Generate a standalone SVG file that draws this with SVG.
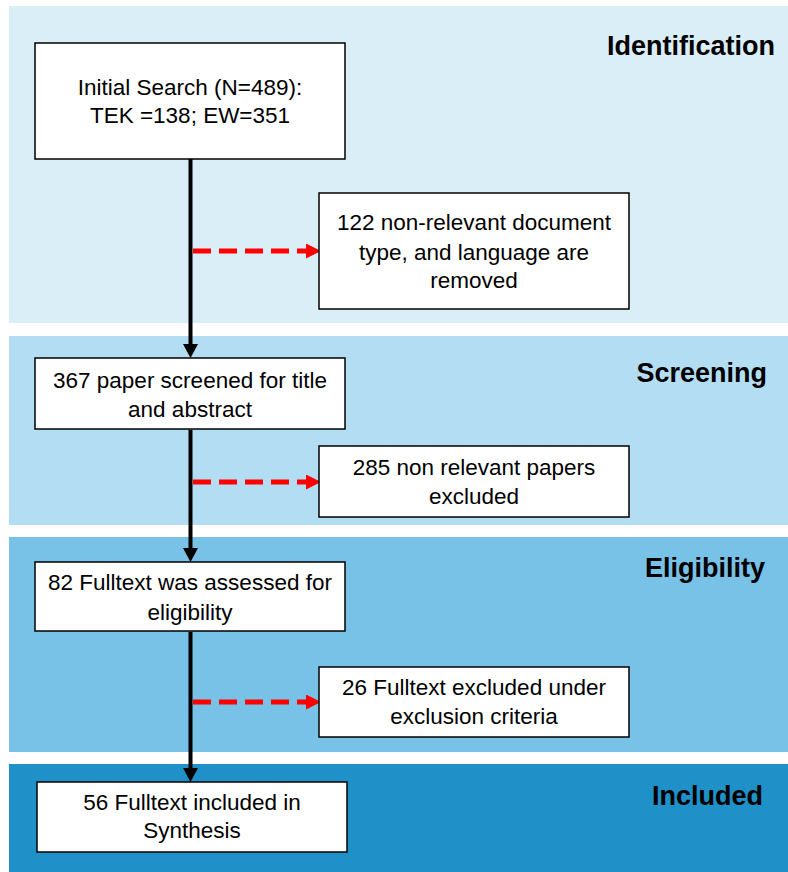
<svg xmlns="http://www.w3.org/2000/svg" width="788" height="872" viewBox="0 0 788 872">
  <style>
    .box { fill: #ffffff; stroke: #000000; stroke-width: 1.5; }
    .txt { font-family: "Liberation Sans", Arial, sans-serif; font-size: 22.5px; fill: #000000; text-anchor: middle; }
    .stage { font-family: "Liberation Sans", Arial, sans-serif; font-size: 27px; font-weight: bold; fill: #000000; text-anchor: end; }
    .flow { stroke: #000000; stroke-width: 4; fill: none; }
    .excl { stroke: #ff0000; stroke-width: 5; stroke-dasharray: 18 8; fill: none; }
  </style>
  <defs>
    <marker id="headBlack" viewBox="0 0 14 15" refX="0" refY="7.5" markerWidth="14" markerHeight="15" markerUnits="userSpaceOnUse" orient="auto">
      <path d="M0,0 L14,7.5 L0,15 Z" fill="#000000"/>
    </marker>
    <marker id="headRed" viewBox="0 0 15 15" refX="0" refY="7.5" markerWidth="15" markerHeight="15" markerUnits="userSpaceOnUse" orient="auto">
      <path d="M0,0 L15,7.5 L0,15 Z" fill="#ff0000"/>
    </marker>
  </defs>

  <!-- stage bands -->
  <g id="bands">
    <rect x="9" y="6" width="779" height="317" fill="#daeef7"/>
    <rect x="9" y="336" width="779" height="189" fill="#b3ddf2"/>
    <rect x="9" y="537" width="779" height="215" fill="#78c1e7"/>
    <rect x="9" y="764" width="779" height="108" fill="#1f90c8"/>
    <text class="stage" x="775" y="55" font-size="28">Identification</text>
    <text class="stage" x="767" y="382">Screening</text>
    <text class="stage" x="765" y="577">Eligibility</text>
    <text class="stage" x="763" y="805">Included</text>
  </g>

  <!-- connectors -->
  <g id="connectors">
    <line class="flow" x1="190.5" y1="159" x2="190.5" y2="344" marker-end="url(#headBlack)"/>
    <line class="flow" x1="190.5" y1="430" x2="190.5" y2="548" marker-end="url(#headBlack)"/>
    <line class="flow" x1="190.5" y1="632" x2="190.5" y2="768" marker-end="url(#headBlack)"/>
    <line class="excl" x1="193" y1="251" x2="306" y2="251" marker-end="url(#headRed)"/>
    <line class="excl" x1="193" y1="482" x2="306" y2="482" marker-end="url(#headRed)"/>
    <line class="excl" x1="193" y1="702" x2="306" y2="702" marker-end="url(#headRed)"/>
  </g>

  <g id="initial-search">
    <rect class="box" x="35" y="43" width="310" height="116"/>
    <text class="txt" x="190" y="95">Initial Search (N=489):</text>
    <text class="txt" x="190" y="123">TEK =138; EW=351</text>
  </g>

  <g id="removed-type-language">
    <rect class="box" x="319" y="193" width="310" height="116"/>
    <text class="txt" x="474" y="230">122 non-relevant document</text>
    <text class="txt" x="474" y="260">type, and language are</text>
    <text class="txt" x="474" y="288">removed</text>
  </g>

  <g id="screened">
    <rect class="box" x="35" y="358" width="310" height="71"/>
    <text class="txt" x="190" y="388">367 paper screened for title</text>
    <text class="txt" x="190" y="417">and abstract</text>
  </g>

  <g id="excluded-papers">
    <rect class="box" x="319" y="446" width="310" height="71"/>
    <text class="txt" x="474" y="475">285 non relevant papers</text>
    <text class="txt" x="474" y="504">excluded</text>
  </g>

  <g id="assessed">
    <rect class="box" x="35" y="562" width="310" height="69"/>
    <text class="txt" x="190" y="590">82 Fulltext was assessed for</text>
    <text class="txt" x="190" y="620">eligibility</text>
  </g>

  <g id="excluded-fulltext">
    <rect class="box" x="319" y="667" width="310" height="70"/>
    <text class="txt" x="474" y="695">26 Fulltext excluded under</text>
    <text class="txt" x="474" y="724">exclusion criteria</text>
  </g>

  <g id="included">
    <rect class="box" x="37" y="782" width="310" height="70"/>
    <text class="txt" x="192" y="810">56 Fulltext included in</text>
    <text class="txt" x="192" y="838">Synthesis</text>
  </g>
</svg>
